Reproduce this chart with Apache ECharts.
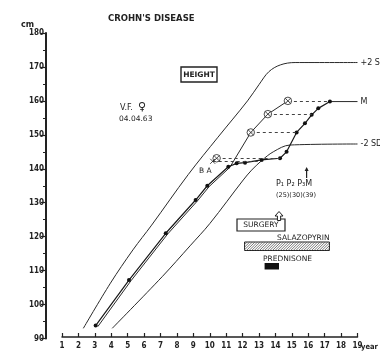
<!DOCTYPE html>
<html><head><meta charset="utf-8">
<script src="https://cdn.jsdelivr.net/npm/echarts@6/dist/echarts.min.js"></script>
<style>html,body{margin:0;padding:0;background:#fff}#c{width:380px;height:353px}</style>
</head><body><div id="c"></div>
<script>
// ---- data ----
const yearTicks = [1,2,3,4,5,6,7,8,9,10,11,12,13,14,15,16,17,18,19];
const heightTicks = [90,100,110,120,130,140,150,160,170,180];

const patientAge    = [3.05, 5.08, 7.32, 9.14, 9.85, 11.13, 11.64, 12.15, 13.16, 14.28, 14.68, 15.29, 15.80, 16.21, 16.61, 17.32];
const patientHeight = [93.8, 107.2, 121.0, 130.8, 135.0, 140.6, 141.6, 141.8, 142.6, 143.1, 145.0, 150.7, 153.4, 155.9, 157.8, 159.8];

const meanAge    = [3.18, 5.2, 7.44, 9.26, 9.97, 11.22, 12.5, 13.54, 14.76];
const meanHeight = [93.5, 107.0, 120.8, 130.6, 134.8, 140.4, 150.7, 156.1, 160.0];

const plus2sdAge    = [2.3, 3.95, 5.32, 6.46, 8.69, 10.5, 12.3, 13.0, 13.6, 14.3, 15.2, 19];
const plus2sdHeight = [93.0, 106.3, 116.1, 123.4, 138.3, 149.3, 160.0, 164.8, 168.6, 170.6, 171.3, 171.3];

const minus2sdAge    = [4.06, 7.1, 8.8, 10.01, 12.04, 12.55, 13.16, 13.87, 14.89, 19];
const minus2sdHeight = [93.0, 108.2, 117.3, 123.9, 136.7, 139.6, 142.4, 145.0, 147.0, 147.3];

const adultMeanAge    = [17.32, 19];
const adultMeanHeight = [159.8, 159.8];

const heightAgeAge    = [10.42, 12.5, 13.54, 14.76];
const heightAgeHeight = [143.1, 150.7, 156.1, 160.0];
const boneAgeAge    = [10.18];
const boneAgeHeight = [142.2];

const linkHeight = [160.0, 156.1, 150.7, 143.1, 142.2];
const linkFrom   = [14.76, 13.54, 12.5, 10.42, 10.18];
const linkTo     = [17.32, 16.21, 15.29, 14.28, 13.16];

const treatmentName  = ['SALAZOPYRIN', 'PREDNISONE'];
const treatmentStart = [12.12, 13.34];
const treatmentEnd   = [17.29, 14.22];
const surgeryAge  = [14.22];
const menarcheAge = [15.9];

// ---- chart ----
const zip = (a, b) => a.map((v, i) => [v, b[i]]);
const INK = '#222';
const FONT = "'DejaVu Sans', sans-serif";
const NARROW = "'Liberation Sans Narrow', 'DejaVu Sans Condensed', sans-serif";

const chart = echarts.init(document.getElementById('c'), null, {renderer: 'canvas'});

const curveStyle = {color: '#2a2a2a', width: 1};
const endLbl = (t) => ({show: true, formatter: t, distance: 3, color: INK, fontSize: 8, fontFamily: FONT});

const option = {
  backgroundColor: '#fff',
  animation: false,
  grid: {left: 62, right: 22.5, top: 33, bottom: 14.5, containLabel: false, outerBoundsMode: 'none'},
  xAxis: {
    type: 'value', min: yearTicks[0], max: yearTicks[yearTicks.length - 1], interval: yearTicks[1] - yearTicks[0],
    offset: -1.5,
    axisLine: {show: true, lineStyle: {color: INK, width: 1.5}},
    axisTick: {show: true, inside: true, length: 4, lineStyle: {color: INK, width: 1.2}},
    axisLabel: {margin: 5, color: INK, fontSize: 8, fontWeight: 'bold', fontFamily: NARROW},
    splitLine: {show: false}
  },
  yAxis: {
    type: 'value', min: heightTicks[0], max: heightTicks[heightTicks.length - 1], interval: heightTicks[1] - heightTicks[0],
    offset: 16,
    axisLine: {show: true, lineStyle: {color: INK, width: 2}},
    axisTick: {show: true, length: 5, lineStyle: {color: INK, width: 1.2}},
    minorTick: {show: true, splitNumber: 2, length: 3, lineStyle: {color: INK, width: 1}},
    axisLabel: {margin: 2, color: INK, fontSize: 8, fontWeight: 'bold', fontFamily: NARROW},
    splitLine: {show: false},
    name: 'cm', nameLocation: 'end', nameGap: 3,
    nameTextStyle: {color: INK, fontSize: 8, fontWeight: 'bold', fontFamily: FONT, align: 'right', verticalAlign: 'bottom', padding: [0, 12, 0, 0]}
  },
  series: [
    {name: '+2 SD', type: 'line', data: zip(plus2sdAge, plus2sdHeight), smooth: 0.35, showSymbol: false,
     lineStyle: curveStyle, endLabel: endLbl('+2 SD'), z: 2},
    {name: '-2 SD', type: 'line', data: zip(minus2sdAge, minus2sdHeight), smooth: 0.35, showSymbol: false,
     lineStyle: curveStyle, endLabel: endLbl('-2 SD'), z: 2},
    {name: 'mean', type: 'line', data: zip(meanAge, meanHeight), smooth: false, showSymbol: false,
     lineStyle: curveStyle, z: 2},
    {name: 'M', type: 'line', data: zip(adultMeanAge, adultMeanHeight), showSymbol: false,
     lineStyle: curveStyle, endLabel: endLbl('M'), z: 2},
    {name: 'height', type: 'line', data: zip(patientAge, patientHeight), smooth: false,
     symbol: 'circle', symbolSize: 4, itemStyle: {color: '#111'},
     lineStyle: {color: '#1a1a1a', width: 1.2}, z: 3,
     markLine: {silent: true, symbol: ['none', 'none'], label: {show: false},
       lineStyle: {type: [3, 3], color: '#444', width: 1},
       data: linkHeight.map((h, i) => [{coord: [linkFrom[i], h]}, {coord: [linkTo[i], h]}])}},
    {name: 'height age', type: 'scatter', data: zip(heightAgeAge, heightAgeHeight),
     symbol: 'path://M10,0 A10,10 0 1,1 10,20 A10,10 0 1,1 10,0 Z M3,3 L17,17 M17,3 L3,17',
     symbolSize: 7.5, itemStyle: {color: '#fff', borderColor: '#222', borderWidth: 1}, z: 5},
    {name: 'bone age', type: 'scatter', data: zip(boneAgeAge, boneAgeHeight),
     symbol: 'path://M0,0 L10,10 M10,0 L0,10', symbolSize: 5,
     itemStyle: {color: 'none', borderColor: '#222', borderWidth: 1}, z: 5},
    {name: 'treatment', type: 'custom', clip: false, z: 4,
     data: treatmentStart.map((s, i) => [s, treatmentEnd[i], i]),
     encode: {x: [0, 1], y: 2},
     renderItem: function (params, api) {
       const i = api.value(2);
       const x0 = api.coord([api.value(0), 90])[0];
       const x1 = api.coord([api.value(1), 90])[0];
       if (i === 0) {
         const y0 = 242, y1 = 250.5, h = y1 - y0;
         const children = [{type: 'rect', shape: {x: x0, y: y0, width: x1 - x0, height: h},
           style: {fill: '#fff', stroke: '#222', lineWidth: 1}}];
         for (let c = x0 - h; c < x1; c += 2.6) {
           let sx = c, sy = y1, ex = c + h, ey = y0;
           if (sx < x0) { sy = y1 - (x0 - sx); sx = x0; }
           if (ex > x1) { ey = y0 + (ex - x1); ex = x1; }
           children.push({type: 'line', shape: {x1: sx, y1: sy, x2: ex, y2: ey}, style: {stroke: '#555', lineWidth: 0.8}});
         }
         return {type: 'group', children: children};
       }
       return {type: 'rect', shape: {x: x0, y: 263, width: x1 - x0, height: 6.5}, style: {fill: '#111'}};
     }},
    {name: 'events', type: 'custom', clip: false, z: 4,
     data: surgeryAge.map(a => [a, a, 0]).concat(menarcheAge.map(a => [a, a, 1])),
     encode: {x: [0, 1], y: 2},
     renderItem: function (params, api) {
       const k = api.value(2);
       const x = api.coord([api.value(0), 90])[0];
       if (k === 0) {
         return {type: 'polygon', shape: {points: [[x, 211.5], [x + 4, 216], [x + 1.6, 216], [x + 1.6, 220.5], [x - 1.6, 220.5], [x - 1.6, 216], [x - 4, 216]]},
           style: {fill: '#fff', stroke: '#222', lineWidth: 1}};
       }
       return {type: 'group', children: [
         {type: 'line', shape: {x1: x, y1: 168.5, x2: x, y2: 178}, style: {stroke: '#222', lineWidth: 1.2}},
         {type: 'polygon', shape: {points: [[x, 167], [x + 2, 171], [x - 2, 171]]}, style: {fill: '#222'}}
       ]};
     }}
  ],
  graphic: [
    {type: 'text', x: 108, y: 19, style: {text: "CROHN'S DISEASE", font: "bold 8.5px " + FONT, fill: INK, verticalAlign: 'middle'}},
    {type: 'text', x: 361, y: 347, style: {text: 'year', font: "bold 7.5px " + NARROW, fill: INK, verticalAlign: 'middle'}},
    {type: 'rect', shape: {x: 181, y: 67, width: 36, height: 15}, style: {fill: 'none', stroke: INK, lineWidth: 1.4}},
    {type: 'text', x: 199, y: 74.8, style: {text: 'HEIGHT', font: "bold 7.5px " + FONT, fill: INK, align: 'center', verticalAlign: 'middle'}},
    {type: 'text', x: 120, y: 108, style: {text: 'V.F.', font: "8px " + FONT, fill: INK, verticalAlign: 'middle'}},
    {type: 'text', x: 138, y: 107, style: {text: '♀', font: "bold 11px " + FONT, fill: INK, verticalAlign: 'middle'}},
    {type: 'text', x: 119, y: 119, style: {text: '04.04.63', font: "7.5px " + FONT, fill: INK, verticalAlign: 'middle'}},
    {type: 'text', x: 199, y: 171, style: {text: 'B A', font: "7.5px " + FONT, fill: INK, verticalAlign: 'middle'}},
    {type: 'text', x: 276, y: 184, style: {text: 'P₁ P₂ P₃M', font: "8px " + FONT, fill: INK, verticalAlign: 'middle'}},
    {type: 'text', x: 276, y: 195, style: {text: '(25)(30)(39)', font: "6.5px " + FONT, fill: INK, verticalAlign: 'middle'}},
    {type: 'rect', shape: {x: 237, y: 219, width: 48, height: 12}, style: {fill: 'none', stroke: INK, lineWidth: 1.2}},
    {type: 'text', x: 261, y: 225.3, style: {text: 'SURGERY', font: "7.5px " + FONT, fill: INK, align: 'center', verticalAlign: 'middle'}},
    {type: 'text', x: 277, y: 238.5, style: {text: treatmentName[0], font: "7.5px " + FONT, fill: INK, verticalAlign: 'middle'}},
    {type: 'text', x: 263, y: 259, style: {text: treatmentName[1], font: "7.5px " + FONT, fill: INK, verticalAlign: 'middle'}}
  ]
};
chart.setOption(option);
</script>
</body></html>
